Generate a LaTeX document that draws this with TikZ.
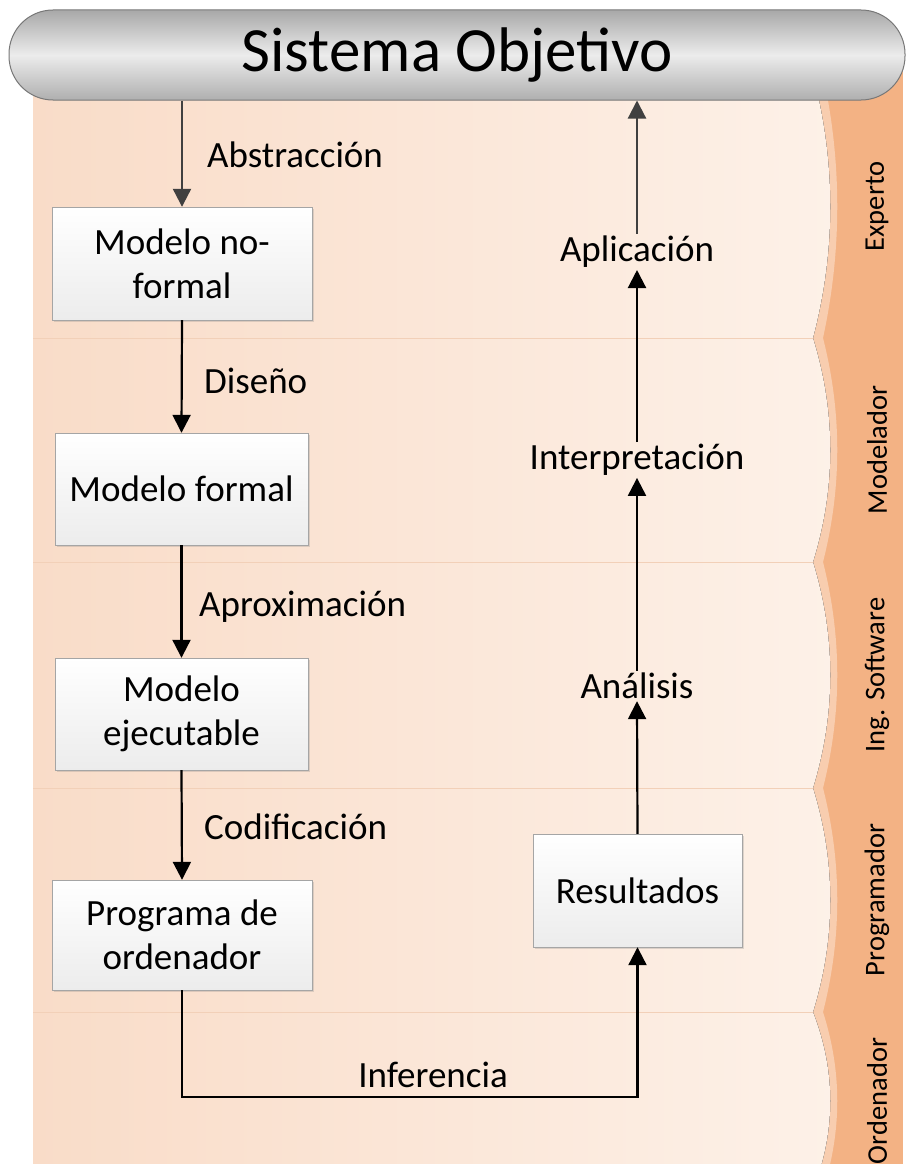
\documentclass[tikz,border=0pt]{standalone}
\usepackage{fontspec}
\setmainfont{Carlito}
\usepackage{xcolor}
\usepackage{tikz}
\usetikzlibrary{arrows.meta,shadows}
\definecolor{banddark}{RGB}{243,178,132}
\definecolor{bandlight}{RGB}{248,205,175}
\definecolor{laneleft}{RGB}{249,220,200}
\definecolor{laneright}{RGB}{253,241,232}
\definecolor{laneline}{RGB}{242,208,184}
\definecolor{boxline}{RGB}{165,165,165}
\definecolor{boxbottom}{RGB}{236,236,236}
\definecolor{bannertop}{RGB}{168,168,168}
\definecolor{bannermid}{RGB}{236,236,236}
\definecolor{bannerbot}{RGB}{175,175,175}
\definecolor{bannerline}{RGB}{120,120,120}
\definecolor{arrowgrey}{RGB}{64,64,64}

\begin{document}
\begin{tikzpicture}[x=1pt, y=-1pt,
        stepbox/.style = {draw=boxline, top color=white, bottom color=boxbottom, align=center,
            font=\fontsize{37}{44}\selectfont, drop shadow={opacity=0.25, shadow xshift=2pt, shadow yshift=-2pt}},
        tag/.style = {font=\fontsize{37}{44}\selectfont, inner sep=2pt},
        role/.style = {rotate=90, font=\fontsize{28.5}{34}\selectfont},
        arr/.style = {line width=2.2pt, -{Triangle[length=18pt, width=18pt]}}]
    \clip (0,0) rectangle (907,1164);
    % right band with the roles
    \fill[banddark] (780,70) rectangle (903,1164);
    \foreach \ya/\yb/\lab [count=\i] in {75/338/Experto, 338/562/Modelador, 562/788/Ing. Software, 788/1012/Programador, 1012/1190/Ordenador}{
        \fill[bandlight] (33,\ya) -- (823,\ya) .. controls +(19,{(\yb-\ya)/3}) and +(19,{(\ya-\yb)/3}) .. (823,\yb) -- (33,\yb) -- cycle;
        \fill[left color=laneleft, right color=laneright] (33,\ya) -- (813,\ya) .. controls +(23,{(\yb-\ya)/3}) and +(23,{(\ya-\yb)/3}) .. (813,\yb) -- (33,\yb) -- cycle;
        \draw[laneline, line width=1pt] (33,\ya) -- (813,\ya);
        \node[role] (role\i) at (877,{(\ya+\yb)/2}) {\lab};
    }
    \node[draw=bannerline, line width=1pt, rounded corners=44pt, top color=bannertop, bottom color=bannerbot, middle color=bannermid,
        minimum width=896pt, minimum height=90pt, font=\fontsize{63}{70}\selectfont] (sysobj) at (457,55) {Sistema Objetivo};

    \node[stepbox, minimum width=260pt, minimum height=113pt] (informal) at (182,263.5) {Modelo no-\\formal};
    \node[stepbox, minimum width=253pt, minimum height=112pt] (formal) at (181.5,489) {Modelo formal};
    \node[stepbox, minimum width=253pt, minimum height=112pt] (exec) at (181.5,714) {Modelo\\ejecutable};
    \node[stepbox, minimum width=260pt, minimum height=110pt] (program) at (182,935) {Programa de\\ordenador};
    \node[stepbox, minimum width=209pt, minimum height=113pt] (results) at (637.5,890.5) {Resultados};

    \node[tag, anchor=west] (abstr) at (205,155) {Abstracción};
    \node[tag, anchor=west] (design) at (202,381) {Diseño};
    \node[tag, anchor=west] (approx) at (197,607) {Aproximación};
    \node[tag, anchor=west] (coding) at (202,827) {Codificación};
    \node[tag] (applic) at (637,252) {Aplicación};
    \node[tag] (interp) at (637,460) {Interpretación};
    \node[tag] (analysis) at (637,686) {Análisis};
    \node[tag] (infer) at (433,1075) {Inferencia};
    \coordinate (turn) at (433,1097);

    \draw[arr, arrowgrey] (sysobj.south -| informal) -- (informal.north);
    \draw[arr] (informal.south) -- (formal.north);
    \draw[arr] (formal.south) -- (exec.north);
    \draw[arr] (exec.south) -- (program.north);
    \draw[arr] (program.south) |- (results.south |- turn) -- (results.south);
    \draw[arr] (results.north) -- (analysis.south);
    \draw[arr] (analysis.north) -- (interp.south);
    \draw[arr] (interp.north) -- (applic.south);
    \draw[arr, arrowgrey] (applic.north) -- (applic.north |- sysobj.south);
\end{tikzpicture}
\end{document}
